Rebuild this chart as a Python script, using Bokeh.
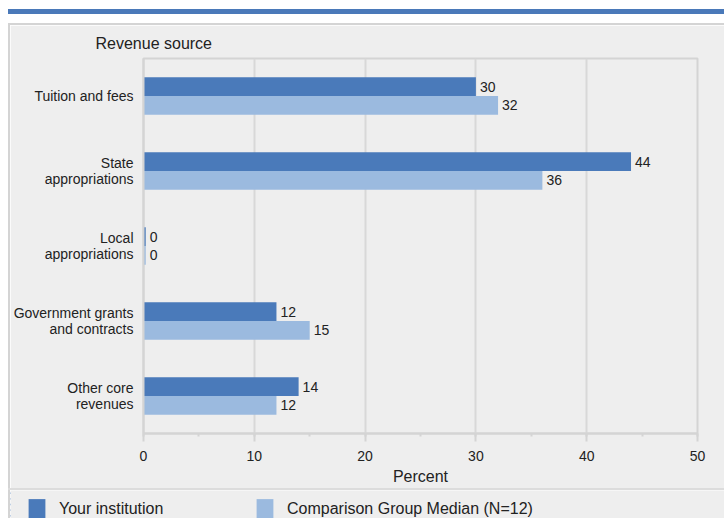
from bokeh.plotting import figure
from bokeh.models import (ColumnDataSource, FactorRange, Range1d, SingleIntervalTicker,
                          Legend, LegendItem, Spacer)
from bokeh.layouts import column, row
from bokeh.transform import dodge
from bokeh.core.properties import value
from bokeh.embed import file_html
from bokeh.resources import INLINE

categories = ["Tuition and fees", "State\nappropriations", "Local\nappropriations",
              "Government grants\nand contracts", "Other core\nrevenues"]
institution = [30, 44, 0.2, 12, 14]
comparison = [32, 36, 0.2, 15, 12]
series_names = ["Your institution", "Comparison Group Median (N=12)"]
x_ticks_interval = 10

DARK = "#4a7aba"
LIGHT = "#9bbadf"
BG = "#eeeeee"
GRID = "#d8d8d8"
EDGE = "#d4d4d4"
FONT = "Liberation Sans"
TXT = "#222222"

src = ColumnDataSource(dict(
    cat=categories,
    inst=institution,
    comp=comparison,
    inst_lbl=["%d" % round(v) for v in institution],
    comp_lbl=["%d" % round(v) for v in comparison],
))

p = figure(width=714, height=463, output_backend="svg", toolbar_location=None,
           y_range=FactorRange(factors=categories[::-1]), x_range=Range1d(0, 50),
           min_border_left=133, min_border_right=27, min_border_top=33, min_border_bottom=55,
           background_fill_color=BG, border_fill_color=BG, title="Revenue source")

p.hbar(y=dodge("cat", 0.125, range=p.y_range), right="inst", left=0, height=0.25,
       source=src, fill_color=DARK, line_color=None)
p.hbar(y=dodge("cat", -0.125, range=p.y_range), right="comp", left=0, height=0.25,
       source=src, fill_color=LIGHT, line_color=None)
p.text(x="inst", y=dodge("cat", 0.125, range=p.y_range), text="inst_lbl", source=src,
       x_offset=4, text_baseline="middle", text_align="left", text_font_size="14px",
       text_font=value(FONT), text_color=TXT)
p.text(x="comp", y=dodge("cat", -0.125, range=p.y_range), text="comp_lbl", source=src,
       x_offset=4, text_baseline="middle", text_align="left", text_font_size="14px",
       text_font=value(FONT), text_color=TXT)

p.title.text_font = FONT
p.title.text_font_size = "16px"
p.title.text_font_style = "normal"
p.title.text_color = TXT
p.title.align = "left"
p.title.offset = -48
p.title.standoff = 13

p.outline_line_color = EDGE
p.outline_line_width = 2

p.xaxis.ticker = SingleIntervalTicker(interval=x_ticks_interval, num_minor_ticks=2)
p.xaxis.axis_label = "Percent"
p.xaxis.axis_label_text_font = FONT
p.xaxis.axis_label_text_font_size = "16px"
p.xaxis.axis_label_text_font_style = "normal"
p.xaxis.axis_label_text_color = TXT
p.xaxis.axis_label_standoff = 4
p.xaxis.axis_line_color = EDGE
p.xaxis.axis_line_width = 2
p.xaxis.major_tick_line_color = EDGE
p.xaxis.major_tick_line_width = 2
p.xaxis.major_tick_out = 8
p.xaxis.major_tick_in = 0
p.xaxis.minor_tick_line_color = EDGE
p.xaxis.minor_tick_line_width = 2
p.xaxis.minor_tick_out = 3
p.xaxis.minor_tick_in = 0
p.xaxis.major_label_text_font = FONT
p.xaxis.major_label_text_font_size = "14px"
p.xaxis.major_label_text_color = TXT
p.xaxis.major_label_standoff = 9

p.yaxis.axis_line_color = EDGE
p.yaxis.axis_line_width = 2
p.yaxis.major_tick_line_color = None
p.yaxis.minor_tick_line_color = None
p.yaxis.major_tick_out = 0
p.yaxis.major_tick_in = 0
p.yaxis.minor_tick_out = 0
p.yaxis.minor_tick_in = 0
p.yaxis.major_label_text_font = FONT
p.yaxis.major_label_text_font_size = "14px"
p.yaxis.major_label_text_color = TXT
p.yaxis.major_label_text_line_height = 0.97
p.yaxis.major_label_standoff = 10

p.xgrid.grid_line_color = GRID
p.xgrid.grid_line_width = 2
p.ygrid.grid_line_color = None

# legend strip: same bars, drawn outside its visible range, only the legend shows
lg = figure(width=714, height=28, output_backend="svg", toolbar_location=None,
            x_range=Range1d(100, 101), y_range=FactorRange(factors=categories[::-1]),
            min_border=0, background_fill_color=BG, border_fill_color=BG)
lg.axis.visible = False
lg.grid.visible = False
lg.outline_line_color = None
r1 = lg.hbar(y="cat", right="inst", left=0, height=0.25, source=src,
             fill_color=DARK, line_color=None)
r2 = lg.hbar(y="cat", right="comp", left=0, height=0.25, source=src,
             fill_color=LIGHT, line_color=None)
for r, lab, loc in [(r1, series_names[0], (16, -4)),
                    (r2, series_names[1], (244, -4))]:
    leg = Legend(items=[LegendItem(label=lab, renderers=[r])], location=loc,
                 glyph_width=21, glyph_height=26, label_standoff=12, padding=0, margin=0,
                 spacing=0, label_height=26,
                 border_line_color=None, background_fill_alpha=0,
                 label_text_font=FONT, label_text_font_size="16px", label_text_color=TXT)
    lg.add_layout(leg, "center")


def block(w, h, color):
    return Spacer(width=w, height=h, margin=0, styles={"background-color": color})


inner = column(
    block(716, 9, "#ffffff"),
    block(716, 5, "#4a79b9"),
    block(716, 9, "#ffffff"),
    block(716, 2, EDGE),
    row(block(2, 463, EDGE), p, spacing=0),
    block(716, 2, "#dcdcdc"),
    row(block(2, 28, EDGE), lg, spacing=0),
    spacing=0,
)
layout = row(block(8, 518, "#ffffff"), inner, spacing=0)

open("out.html", "w").write(file_html(layout, INLINE))
